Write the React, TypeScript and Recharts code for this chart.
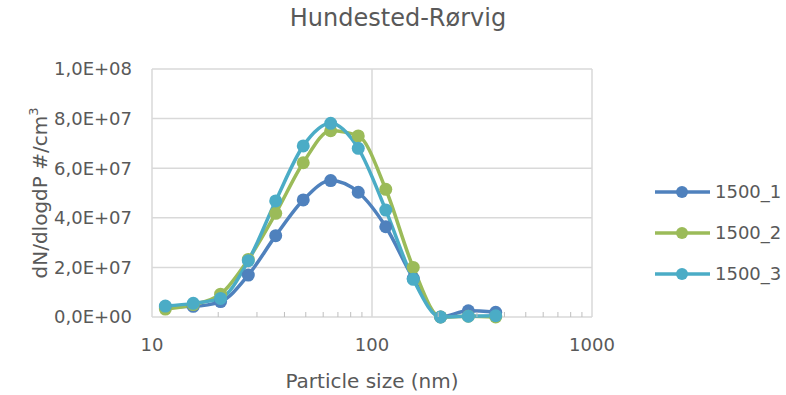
import { LineChart, Line, XAxis, YAxis, CartesianGrid, ReferenceLine, Label } from 'recharts';

// particle size bins (nm)
const sizes = [11.5, 15.4, 20.5, 27.4, 36.5, 48.7, 64.9, 86.6, 115.5, 154, 205, 274, 365];

// dN/dlogdP (#/cm3) per run
const run1 = [4.1e6, 4.3e6, 6.2e6, 1.69e7, 3.28e7, 4.72e7, 5.5e7, 5.03e7, 3.64e7, 1.56e7, 0, 2.5e6, 1.9e6];
const run2 = [3.2e6, 5.0e6, 9.2e6, 2.32e7, 4.18e7, 6.22e7, 7.51e7, 7.3e7, 5.15e7, 2.0e7, 0, 3e5, 0];
const run3 = [4.4e6, 5.5e6, 7.5e6, 2.27e7, 4.68e7, 6.9e7, 7.81e7, 6.8e7, 4.31e7, 1.52e7, 0, 3e5, 5e5];

const seriesNames = ['1500_1', '1500_2', '1500_3'];
const seriesColors = ['#4F81BD', '#9BBB59', '#4BACC6'];

const yTicks = [0, 2e7, 4e7, 6e7, 8e7, 1e8];
const xMajor = [10, 100, 1000];
const xMinor = [20, 30, 40, 50, 60, 70, 80, 90, 200, 300, 400, 500, 600, 700, 800, 900];

const data = sizes.map((size, i) => ({
  size,
  s1: run1[i],
  s2: run2[i],
  s3: run3[i],
}));
const keys = ['s1', 's2', 's3'];

const FONT = '"DejaVu Sans", Verdana, sans-serif';
const TEXT = '#595959';
const GRID = '#d9d9d9';

// Excel style "1,0E+08"
const fmtSci = (v: number) => {
  if (v === 0) return '0,0E+00';
  const [m, e] = v.toExponential(1).split('e');
  const exp = parseInt(e, 10);
  const sign = exp < 0 ? '-' : '+';
  return `${m.replace('.', ',')}E${sign}${String(Math.abs(exp)).padStart(2, '0')}`;
};

const XTick = (props: any) => {
  const { x, y, payload } = props;
  const v = payload.value;
  if (xMajor.includes(v)) {
    return (
      <text x={x} y={y + 28} textAnchor="middle" dy="0.355em" fill={TEXT} fontSize={18} fontFamily={FONT}>
        {v}
      </text>
    );
  }
  return <line x1={x} x2={x} y1={y - 5} y2={y} stroke="#bfbfbf" strokeWidth={1} />;
};

const YTitle = (props: any) => {
  const cx = 40;
  const cy = 193;
  return (
    <text
      x={cx}
      y={cy}
      transform={`rotate(-90, ${cx}, ${cy})`}
      textAnchor="middle"
      dy="0.355em"
      fill={TEXT}
      fontSize={20}
      fontFamily={FONT}
    >
      dN/dlogdP  #/cm
      <tspan fontSize={13} dy="-0.7em">3</tspan>
    </text>
  );
};

export default function App() {
  return (
    <div style={{ position: 'relative', width: 786, height: 395, background: '#fff' }}>
      <style>{'body{margin:0}'}</style>
      <div
        style={{
          position: 'absolute',
          left: 0,
          width: 796,
          top: 4,
          textAlign: 'center',
          fontFamily: FONT,
          fontSize: 24,
          color: TEXT,
          lineHeight: '28px',
        }}
      >
        Hundested-Rørvig
      </div>
      <LineChart width={786} height={395} data={data} margin={{ top: 69, right: 194, bottom: 0, left: 0 }}>
        <CartesianGrid vertical={false} stroke={GRID} strokeWidth={1.5} />
        {xMajor.map((v) => (
          <ReferenceLine key={v} x={v} stroke={GRID} strokeWidth={1.5} />
        ))}
        <XAxis
          dataKey="size"
          type="number"
          scale="log"
          domain={[10, 1000]}
          allowDataOverflow
          ticks={[...xMajor, ...xMinor]}
          interval={0}
          height={78}
          axisLine={false}
          tickLine={false}
          tickSize={0}
          tickMargin={0}
          tick={<XTick />}
        >
          <Label
            value="Particle size (nm)"
            position="insideBottom"
            offset={7}
            fill={TEXT}
            fontSize={20}
            fontFamily={FONT}
          />
        </XAxis>
        <YAxis
          type="number"
          domain={[0, 1e8]}
          ticks={yTicks}
          width={152}
          axisLine={false}
          tickLine={false}
          tickSize={0}
          tickMargin={20}
          tickFormatter={fmtSci}
          tick={{ fill: TEXT, fontSize: 18, fontFamily: FONT }}
        >
          <Label content={<YTitle />} />
        </YAxis>
        {keys.map((k, i) => (
          <Line
            key={k}
            dataKey={k}
            name={seriesNames[i]}
            type="monotone"
            stroke={seriesColors[i]}
            strokeWidth={3.5}
            dot={{ r: 6.5, fill: seriesColors[i], stroke: seriesColors[i], strokeWidth: 0 }}
            isAnimationActive={false}
          />
        ))}
      </LineChart>
      <svg style={{ position: 'absolute', left: 640, top: 170 }} width={146} height={120}>
        {seriesNames.map((name, i) => {
          const y = 22 + i * 41;
          return (
            <g key={name}>
              <line x1={15} x2={70} y1={y} y2={y} stroke={seriesColors[i]} strokeWidth={3.5} />
              <circle cx={42} cy={y} r={6} fill={seriesColors[i]} />
              <text x={75} y={y} dy="0.355em" fill={TEXT} fontSize={18} fontFamily={FONT}>
                {name}
              </text>
            </g>
          );
        })}
      </svg>
    </div>
  );
}
